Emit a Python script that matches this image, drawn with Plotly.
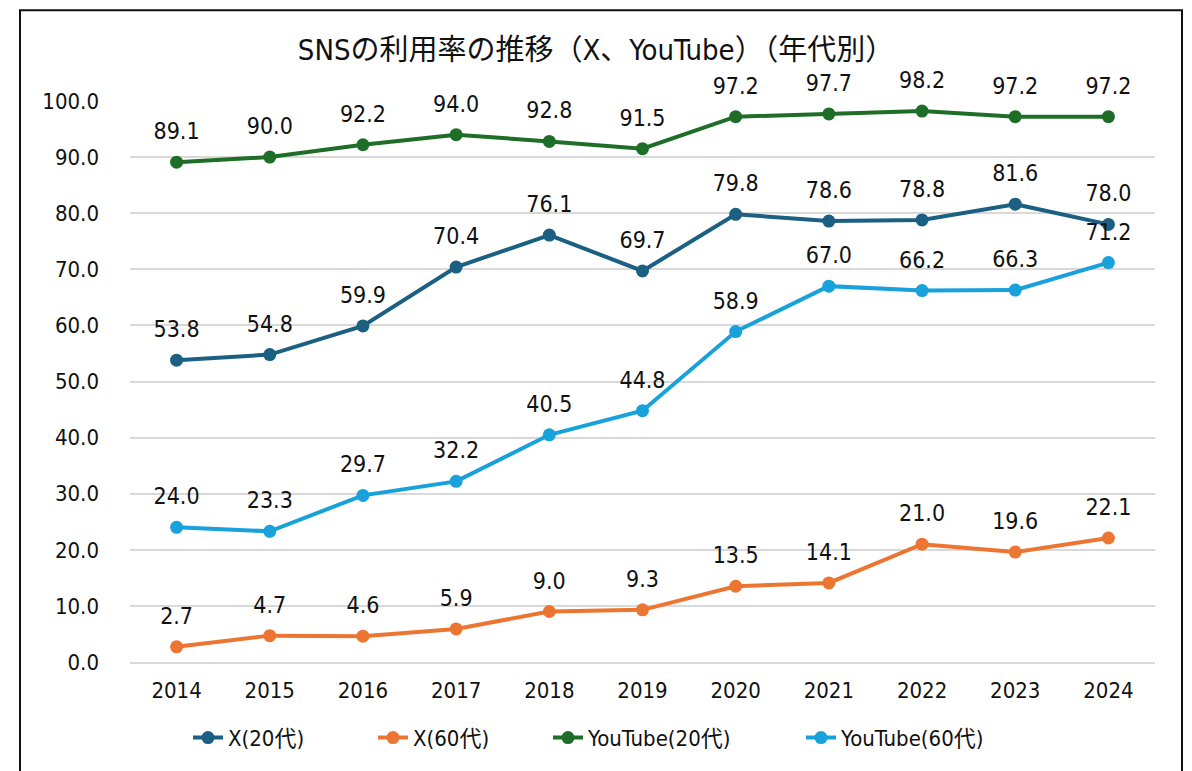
import plotly.graph_objects as go

years = ["2014", "2015", "2016", "2017", "2018", "2019", "2020", "2021", "2022", "2023", "2024"]
x_20 = [53.8, 54.8, 59.9, 70.4, 76.1, 69.7, 79.8, 78.6, 78.8, 81.6, 78.0]
x_60 = [2.7, 4.7, 4.6, 5.9, 9.0, 9.3, 13.5, 14.1, 21.0, 19.6, 22.1]
yt_20 = [89.1, 90.0, 92.2, 94.0, 92.8, 91.5, 97.2, 97.7, 98.2, 97.2, 97.2]
yt_60 = [24.0, 23.3, 29.7, 32.2, 40.5, 44.8, 58.9, 67.0, 66.2, 66.3, 71.2]
y_ticks = [0, 10, 20, 30, 40, 50, 60, 70, 80, 90, 100]

series = [
    ("X(20代)", x_20, "#1B5F82"),
    ("X(60代)", x_60, "#EC7532"),
    ("YouTube(20代)", yt_20, "#1E6E27"),
    ("YouTube(60代)", yt_60, "#18A1DA"),
]
legend_ids = ["legend", "legend2", "legend3", "legend4"]
legend_left_px = [195, 380, 555, 808]

FONT = "DejaVu Sans Condensed, Noto Sans CJK JP, sans-serif"

fig = go.Figure()
for (name, vals, color), lid in zip(series, legend_ids):
    fig.add_trace(go.Scatter(
        x=years, y=vals, name=name, mode="lines+markers",
        line=dict(color=color, width=4),
        marker=dict(color=color, size=13),
        legend=lid,
    ))
# data labels above the points
for name, vals, color in series:
    fig.add_trace(go.Scatter(
        x=years, y=vals, mode="markers+text", showlegend=False, hoverinfo="skip",
        text=[f"{v:.1f}" for v in vals], textposition="top center",
        textfont=dict(family=FONT, size=23, color="#111111"),
        marker=dict(size=26, opacity=0, color=color),
        cliponaxis=False,
    ))

legend_style = dict(orientation="h", xanchor="left", y=-0.135, yanchor="middle",
                    font=dict(family=FONT, size=22, color="#111111"),
                    bgcolor="rgba(0,0,0,0)")
layout_legends = {}
for lid, px in zip(legend_ids, legend_left_px):
    layout_legends[lid] = dict(legend_style, x=(px - 7 - 130) / 1025)

fig.update_layout(
    width=1192, height=771,
    margin=dict(l=130, r=37, t=101, b=107),
    paper_bgcolor="white", plot_bgcolor="white",
    font=dict(family=FONT, color="#111111"),
    title=dict(text="SNSの利用率の推移（X、YouTube）（年代別）",
               x=0.5, xanchor="center", y=0.935, yanchor="middle",
               font=dict(family=FONT, size=29, color="#111111")),
    shapes=[dict(type="rect", xref="paper", yref="paper",
                 x0=(20 - 130) / 1025, x1=(1182 - 130) / 1025,
                 y0=-0.3, y1=(664 - 10) / 563,
                 line=dict(color="#111111", width=2), fillcolor="rgba(0,0,0,0)",
                 layer="below")],
    **layout_legends,
)
fig.update_xaxes(type="category", range=[-0.5, 10.5], showgrid=False,
                 showline=True, linecolor="#d9d9d9", linewidth=2,
                 tickfont=dict(family=FONT, size=22, color="#111111"),
                 ticks="", ticklabelstandoff=8)
fig.update_yaxes(range=[0, 100], tickvals=y_ticks,
                 ticktext=[f"{v:.1f}" for v in y_ticks],
                 showgrid=True, gridcolor="#d9d9d9", gridwidth=2,
                 zeroline=False, showline=False,
                 tickfont=dict(family=FONT, size=22, color="#111111"),
                 ticks="", ticklabelstandoff=30)

fig.write_html("out.html")
